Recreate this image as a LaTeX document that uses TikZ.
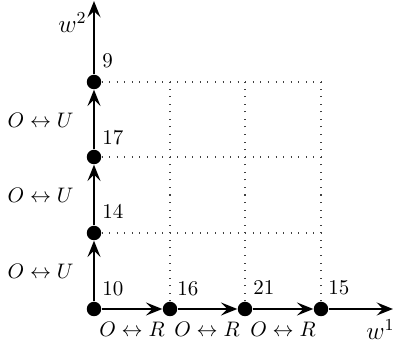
\documentclass[tikz,border=0pt]{standalone}
\usetikzlibrary{arrows.meta}
\begin{document}
\begin{tikzpicture}[x=0.476pt,y=-0.476pt,
  pt/.style={circle,fill=black,inner sep=0pt,minimum size=6.9pt},
  edge/.style={line width=1.05pt,-{Stealth[length=7.8pt,width=6.2pt,inset=3pt]}},
  axis/.style={line width=1.05pt,-{Stealth[length=7.8pt,width=6.2pt,inset=3pt]}},
  grid/.style={line width=0.5pt,black!75,dash pattern=on 0.5pt off 3.1pt},
  num/.style={inner sep=0pt,anchor=base west},
  elab/.style={inner sep=0pt}]
\useasboundingbox (0,0) rectangle (393,342);
% grid
\draw[grid] (94,233) -- (321,233);
\draw[grid] (94,157) -- (321,157);
\draw[grid] (94,82) -- (321,82);
\draw[grid] (170,309) -- (170,82);
\draw[grid] (245,309) -- (245,82);
\draw[grid] (321,309) -- (321,82);
% points
\node[pt] (o) at (94,309) {};
\node[pt] (a1) at (170,309) {};
\node[pt] (a2) at (245,309) {};
\node[pt] (a3) at (321,309) {};
\node[pt] (b1) at (94,233) {};
\node[pt] (b2) at (94,157) {};
\node[pt] (b3) at (94,82) {};
\coordinate (xend) at (393,309);
\coordinate (yend) at (94,1);
% edges
\draw[edge] (o) -- (a1);
\draw[edge] (a1) -- (a2);
\draw[edge] (a2) -- (a3);
\draw[axis] (a3) -- (xend);
\draw[edge] (o) -- (b1);
\draw[edge] (b1) -- (b2);
\draw[edge] (b2) -- (b3);
\draw[axis] (b3) -- (yend);
% numbers
\node[num] (n10) at (102,296) {10};
\node[num] (n16) at (177,296) {16};
\node[num] (n21) at (253,295) {21};
\node[num] (n15) at (328,295) {15};
\node[num] (n14) at (102,219) {14};
\node[num] (n17) at (102,145) {17};
\node[num] (n9) at (102,68) {9};
% edge labels
\node[elab,anchor=east] (u1) at (74,271) {$O\leftrightarrow U$};
\node[elab,anchor=east] (u2) at (74,195) {$O\leftrightarrow U$};
\node[elab,anchor=east] (u3) at (74,120) {$O\leftrightarrow U$};
\node[elab,anchor=base] (r1) at (132,337) {$O\leftrightarrow R$};
\node[elab,anchor=base] (r2) at (207,337) {$O\leftrightarrow R$};
\node[elab,anchor=base] (r3) at (283,337) {$O\leftrightarrow R$};
% axis labels
\node[num] (w1) at (366,340) {\large $w^1$};
\node[num] (w2) at (58,33) {\large $w^2$};
\end{tikzpicture}
\end{document}
